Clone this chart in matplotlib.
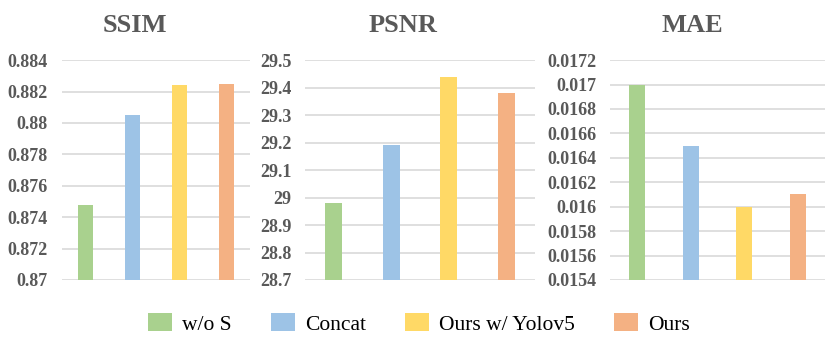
import matplotlib.pyplot as plt
from matplotlib.patches import Patch

methods = ["w/o S", "Concat", "Ours w/ Yolov5", "Ours"]
colors = ["#A9D18E", "#9DC3E6", "#FFD966", "#F4B183"]

ssim = [0.8748, 0.8805, 0.8824, 0.8825]
psnr = [28.98, 29.19, 29.44, 29.38]
mae = [0.0170, 0.0165, 0.0160, 0.0161]

ssim_ticks = [0.87, 0.872, 0.874, 0.876, 0.878, 0.88, 0.882, 0.884]
ssim_labels = ["0.87", "0.872", "0.874", "0.876", "0.878", "0.88", "0.882", "0.884"]
psnr_ticks = [28.7, 28.8, 28.9, 29.0, 29.1, 29.2, 29.3, 29.4, 29.5]
psnr_labels = ["28.7", "28.8", "28.9", "29", "29.1", "29.2", "29.3", "29.4", "29.5"]
mae_ticks = [0.0154, 0.0156, 0.0158, 0.016, 0.0162, 0.0164, 0.0166, 0.0168, 0.017, 0.0172]
mae_labels = ["0.0154", "0.0156", "0.0158", "0.016", "0.0162", "0.0164",
              "0.0166", "0.0168", "0.017", "0.0172"]

plt.rcParams['font.family'] = ['Liberation Serif', 'DejaVu Serif']
grey = "#595959"

fig = plt.figure(figsize=(8.3, 3.43), dpi=100)

panels = [
    ("SSIM", ssim, ssim_ticks, ssim_labels, [0.0747, 0.1837, 0.2265, 0.641], 0.163),
    ("PSNR", psnr, psnr_ticks, psnr_labels, [0.3675, 0.1837, 0.2771, 0.641], 0.486),
    ("MAE", mae, mae_ticks, mae_labels, [0.7349, 0.1837, 0.2590, 0.641], 0.834),
]

for title, vals, ticks, labels, rect, tx in panels:
    ax = fig.add_axes(rect)
    x = range(len(vals))
    ax.bar(x, vals, width=0.3, color=colors, zorder=3)
    ax.set_xlim(-0.5, len(vals) - 0.5)
    ax.set_ylim(ticks[0], ticks[-1])
    ax.set_yticks(ticks)
    ax.set_yticklabels(labels, fontsize=13, fontweight='bold', color=grey)
    ax.set_xticks([])
    ax.grid(axis='y', color='#D9D9D9', linewidth=1.2, zorder=0)
    ax.tick_params(axis='y', length=0, pad=10)
    for s in ax.spines.values():
        s.set_visible(False)
    fig.text(tx, 0.925, title, ha='center', va='center', fontsize=19,
             fontweight='bold', color=grey)

handles = [Patch(facecolor=c, edgecolor='none') for c in colors]
fig.legend(handles, methods, loc='center', bbox_to_anchor=(0.505, 0.055), ncol=4,
           frameon=False, fontsize=15.5, handlelength=1.1, handleheight=0.9,
           handletextpad=0.5, columnspacing=1.8)

fig.savefig("out.png", dpi=100)
